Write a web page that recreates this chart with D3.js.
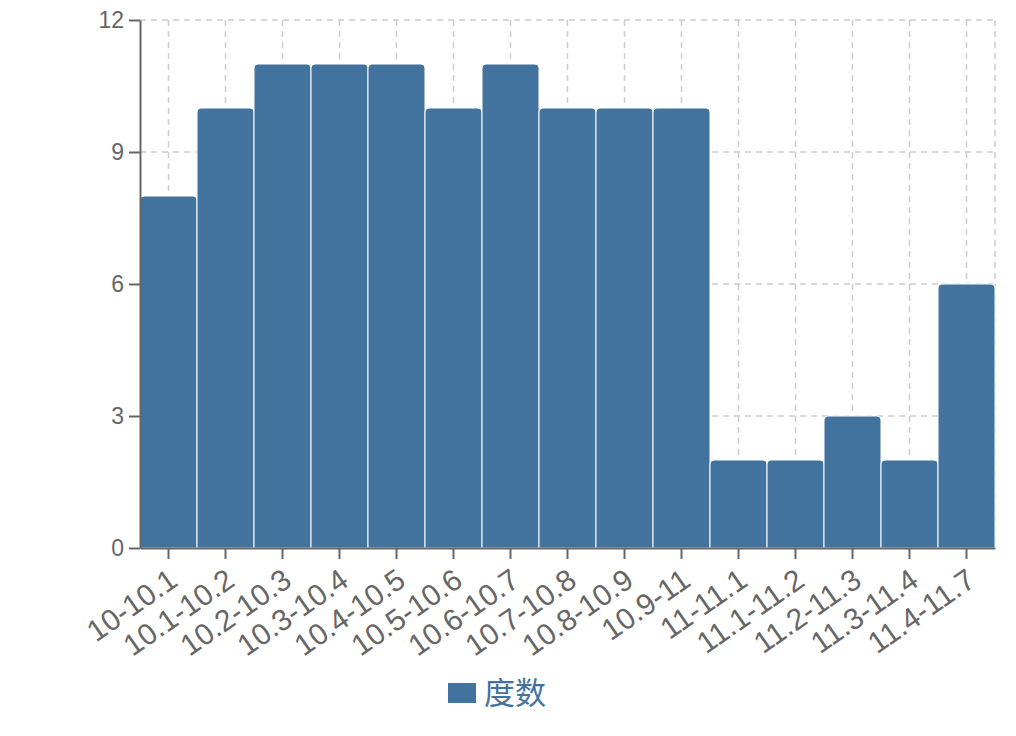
<!DOCTYPE html>
<html>
<head>
<meta charset="utf-8">
<script src="https://cdn.jsdelivr.net/npm/d3@7"></script>
<style>
  body { margin: 0; background: #fff; }
  text { font-family: "Liberation Sans", Arial, sans-serif; }
</style>
</head>
<body>
<div id="chart"></div>
<script>
// Data
const categories = ["10-10.1", "10.1-10.2", "10.2-10.3", "10.3-10.4", "10.4-10.5", "10.5-10.6",
    "10.6-10.7", "10.7-10.8", "10.8-10.9", "10.9-11", "11-11.1", "11.1-11.2", "11.2-11.3",
    "11.3-11.4", "11.4-11.7"];
const counts = [8, 10, 11, 11, 11, 10, 11, 10, 10, 10, 2, 2, 3, 2, 6];
const yTicks = [0, 3, 6, 9, 12];
const seriesName = "度数";

// Dimensions
const margin = {top: 20, right: 21, bottom: 188, left: 140},
    width = 1016 - margin.left - margin.right,
    height = 736 - margin.top - margin.bottom;

const barColor = "#41739e";
const axisColor = "#666";

const svg = d3.select("#chart")
    .append("svg")
        .attr("width", 1016)
        .attr("height", 736)
    .append("g")
        .attr("transform", "translate(" + margin.left + "," + margin.top + ")");

// Scales
const x = d3.scaleBand()
    .domain(categories)
    .range([0, width])
    .padding(0);

const y = d3.scaleLinear()
    .domain([0, 12])
    .range([height, 0]);

// Grid lines
const grid = svg.append("g").attr("class", "grid")
    .attr("stroke", "#ccc")
    .attr("stroke-width", 1.5)
    .attr("stroke-dasharray", "6,5");
grid.selectAll(".hgrid")
    .data(yTicks)
    .enter().append("line")
    .attr("x1", 0)
    .attr("x2", width)
    .attr("y1", d => y(d))
    .attr("y2", d => y(d));
grid.selectAll(".vgrid")
    .data(categories)
    .enter().append("line")
    .attr("x1", d => x(d) + x.bandwidth() / 2)
    .attr("x2", d => x(d) + x.bandwidth() / 2)
    .attr("y1", 0)
    .attr("y2", height);
grid.append("line")
    .attr("x1", width).attr("x2", width)
    .attr("y1", 0).attr("y2", height);

// Bars with rounded top corners
const r = 4;
function barPath(d, i) {
    const x0 = x(categories[i]), x1 = x0 + x.bandwidth();
    const yt = y(d), yb = y(0);
    return `M${x0},${yb} L${x0},${yt + r} Q${x0},${yt} ${x0 + r},${yt} L${x1 - r},${yt} Q${x1},${yt} ${x1},${yt + r} L${x1},${yb} Z`;
}
svg.selectAll(".bar")
    .data(counts)
    .enter().append("path")
    .attr("class", "bar")
    .attr("d", barPath)
    .attr("fill", barColor)
    .attr("stroke", "#fff")
    .attr("stroke-width", 1);

// X axis
const xAxis = svg.append("g")
    .attr("transform", "translate(0," + height + ")")
    .call(d3.axisBottom(x).tickSize(11).tickSizeOuter(0));
xAxis.select(".domain").attr("stroke", axisColor).attr("stroke-width", 2);
xAxis.selectAll(".tick line").attr("stroke", axisColor).attr("stroke-width", 2);
xAxis.selectAll(".tick text")
    .attr("fill", axisColor)
    .style("font-size", "30px")
    .attr("text-anchor", "end")
    .attr("x", -12)
    .attr("y", 36)
    .attr("dy", 0)
    .attr("transform", "rotate(-35)");

// Y axis
const yAxis = svg.append("g")
    .call(d3.axisLeft(y).tickValues(yTicks).tickSize(11).tickSizeOuter(0));
yAxis.select(".domain").attr("stroke", axisColor).attr("stroke-width", 2);
yAxis.selectAll(".tick line").attr("stroke", axisColor).attr("stroke-width", 2);
yAxis.selectAll(".tick text")
    .attr("fill", axisColor)
    .style("font-size", "23px")
    .attr("x", -16);

// Legend
const legend = svg.append("g")
    .attr("transform", "translate(" + (448 - margin.left) + "," + (683 - margin.top) + ")");
legend.append("rect")
    .attr("width", 28)
    .attr("height", 20)
    .attr("fill", barColor);
legend.append("text")
    .attr("x", 36)
    .attr("y", 10)
    .attr("dy", "0.35em")
    .attr("fill", barColor)
    .style("font-family", "'Noto Sans CJK SC', sans-serif")
    .style("font-size", "31px")
    .text(seriesName);
</script>
</body>
</html>
